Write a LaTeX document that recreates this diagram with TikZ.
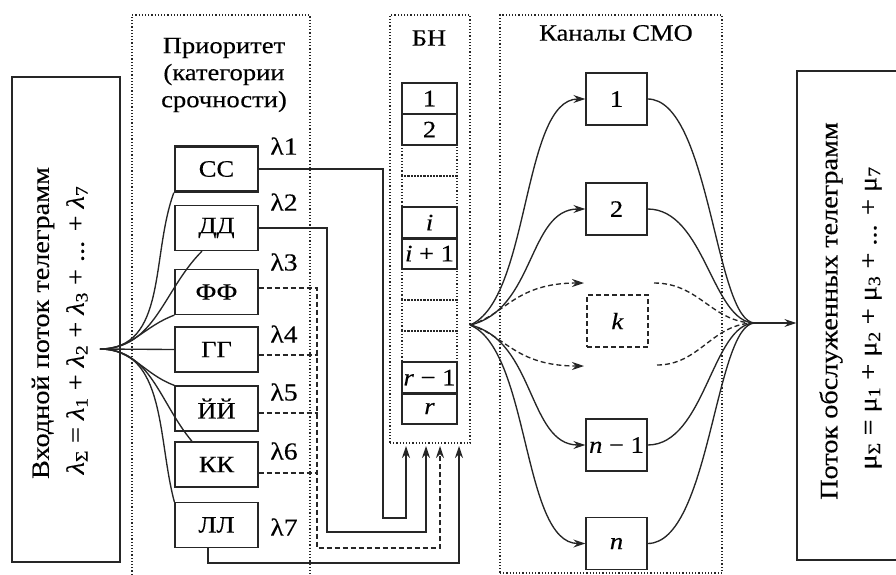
\documentclass[tikz,border=0pt]{standalone}
\usepackage{fontspec}
\setmainfont{Liberation Serif}[FakeStretch=1.13,FakeBold=0.3]
\usetikzlibrary{arrows.meta,calc}
\definecolor{lc}{gray}{0.15}
\begin{document}
\begin{tikzpicture}[x=1pt,y=-1pt,
  every node/.style={font=\fontsize{23.5}{27}\selectfont, text=black},
  side/.style={rotate=90, font=\fontsize{25}{29}\selectfont},
  box/.style={draw=lc, line width=1.3pt, inner sep=0pt},
  pbox/.style={box, minimum width=83pt, minimum height=45pt},
  cbox/.style={box, minimum width=61pt, minimum height=52pt},
  bcell/.style={box, minimum width=55pt, minimum height=31pt},
  dcell/.style={draw=lc, line width=1.2pt, dash pattern=on 1.2pt off 2pt, minimum width=55pt, minimum height=31pt, inner sep=0pt},
  dotbox/.style={draw=lc, line width=1.2pt, dash pattern=on 1.2pt off 2pt, inner sep=0pt},
  wire/.style={draw=lc, line width=1.35pt},
  dwire/.style={wire, dash pattern=on 5pt off 3pt},
  arr/.style={-{Stealth[length=12pt,width=8pt]}},
  lab/.style={inner sep=0pt, font=\fontsize{24.5}{27}\selectfont},
]
\useasboundingbox (0,0) rectangle (896,574);

% outer boxes
\node[box, minimum width=108pt, minimum height=485pt] (inbox) at (66,319.5) {};
\node[side] (in1) at (43,323) {Входной поток телеграмм};
\node[side] (in2) at (77,330) {\textit{λ}\textsubscript{Σ} = \textit{λ}\textsubscript{1} + \textit{λ}\textsubscript{2} + \textit{λ}\textsubscript{3} + ... + \textit{λ}\textsubscript{7}};

\node[box, minimum width=112pt, minimum height=489pt] (outbox) at (853,315.5) {};
\node[side] (out1) at (831,311) {Поток обслуженных телеграмм};
\node[side] (out2) at (872,318) {μ\textsubscript{Σ} = μ\textsubscript{1} + μ\textsubscript{2} + μ\textsubscript{3} + ... + μ\textsubscript{7}};

% dotted groups
\draw[dotbox] (132,578) -- (132,15) -- (310,15) -- (310,578);
\node[align=center] (ptitle) at (224,75) {Приоритет\\(категории\\срочности)};

\node[dotbox, minimum width=80pt, minimum height=428pt] (bn) at (430,229) {};
\node (bntitle) at (429,38) {БН};

\node[dotbox, minimum width=222pt, minimum height=558pt] (chbox) at (611,294) {};
\node (chtitle) at (616,33) {Каналы СМО};

% priority boxes
\node[pbox, line width=2.4pt] (cc) at (216.5,169) {СС};
\node[pbox] (dd) at (216.5,228) {ДД};
\node[pbox] (ff) at (216.5,292) {ФФ};
\node[pbox] (gg) at (216.5,349.5) {ГГ};
\node[pbox] (jj) at (216.5,408.5) {ЙЙ};
\node[pbox] (kk) at (216.5,464.5) {КК};
\node[pbox] (ll) at (216.5,525) {ЛЛ};

\node[lab] (l1) at (284,146) {λ1};
\node[lab] (l2) at (284,202) {λ2};
\node[lab] (l3) at (284,262) {λ3};
\node[lab] (l4) at (284,334) {λ4};
\node[lab] (l5) at (284,392) {λ5};
\node[lab] (l6) at (284,451) {λ6};
\node[lab] (l7) at (284,527) {λ7};

% buffer cells
\node[bcell] (b1) at (429.5,98.5) {1};
\node[bcell] (b2) at (429.5,129.5) {2};
\node[dcell] (d1) at (429.5,160.5) {};
\node[dcell] (d2) at (429.5,191.5) {};
\node[bcell] (bi) at (429.5,222.5) {\textit{i}};
\node[bcell] (bi1) at (429.5,253.5) {\textit{i} + 1};
\node[dcell] (d3) at (429.5,284.5) {};
\node[dcell] (d4) at (429.5,315.5) {};
\node[dcell] (d5) at (429.5,346.5) {};
\node[bcell] (br1) at (429.5,377.5) {\textit{r} − 1};
\node[bcell] (br) at (429.5,408.5) {\textit{r}};
\draw[lc, line width=2.8pt] (bi.south west) -- (bi.south east);
\draw[lc, line width=2.8pt] (br1.south west) -- (br1.south east);

% channels
\node[cbox] (c1) at (616.5,99) {1};
\node[cbox] (c2) at (616.5,209) {2};
\node[cbox, dash pattern=on 5pt off 3pt] (ck) at (617.5,321) {\textit{k}};
\node[cbox] (cn1) at (616.5,445) {\textit{n} − 1};
\node[cbox] (cn) at (616.5,543.5) {\textit{n}};

% coordinates
\coordinate (pf) at (100,349);
\coordinate (cf) at (470,325);
\coordinate (rf) at (755,323);
\coordinate (ku) at (584,283);
\coordinate (kd) at (584,366);
\coordinate (kur) at (654,283);
\coordinate (kdr) at (657,365);
\coordinate (a1) at (406,446);
\coordinate (a2) at (426,446);
\coordinate (a3) at (440,446);
\coordinate (a4) at (459,446);

% input fan
\draw[wire] (pf) to[out=0,in=-110] (cc.south west);
\draw[wire] (pf) to[out=0,in=-135] ([xshift=-14.5pt]dd.south);
\draw[wire] (pf) to[out=0,in=-160] (ff.south west);
\draw[wire] (pf) -- (gg.west);
\draw[wire] (pf) to[out=0,in=160] (jj.north west);
\draw[wire] (pf) to[out=0,in=130] ([xshift=-24.5pt]kk.north);
\draw[wire] (pf) to[out=0,in=105] (ll.north west);

% priority to buffer
\draw[wire, arr] (cc.east) -| (383,518) -| (a1);
\draw[wire, arr] (dd.east) -| (327,532) -| (a2);
\draw[dwire, arr] ([yshift=4pt]ff.east) -| (317,548) -| (a3);
\draw[dwire] ([yshift=-5.5pt]gg.east) -- ++(59,0);
\draw[dwire] ([yshift=-4.5pt]jj.east) -- ++(59,0);
\draw[dwire] ([yshift=-8.5pt]kk.east) -- ++(59,0);
\draw[wire, arr] ([xshift=-8.5pt]ll.south) -- ++(0,15) -| (a4);

% channel fan in
\draw[wire, arr] (cf) .. controls (530,300) and (522,99) .. (c1.west);
\draw[wire, arr] (cf) .. controls (535,310) and (528,209) .. (c2.west);
\draw[dwire, arr] (cf) .. controls (505,315) and (515,283) .. (ku);
\draw[dwire, arr] (cf) .. controls (505,335) and (515,366) .. (kd);
\draw[wire, arr] (cf) .. controls (535,340) and (528,445) .. (cn1.west);
\draw[wire, arr] (cf) .. controls (530,350) and (522,543.5) .. (cn.west);

% channel fan out
\draw[wire] (c1.east) .. controls (710,99) and (715,323) .. (rf);
\draw[wire] (c2.east) .. controls (705,209) and (712,323) .. (rf);
\draw[dwire] (kur) .. controls (700,283) and (712,323) .. (rf);
\draw[dwire] (kdr) .. controls (700,365) and (712,323) .. (rf);
\draw[wire] (cn1.east) .. controls (705,445) and (712,323) .. (rf);
\draw[wire] (cn.east) .. controls (710,543.5) and (715,323) .. (rf);
\draw[wire, arr] (rf) -- (rf -| outbox.west);
\end{tikzpicture}
\end{document}
